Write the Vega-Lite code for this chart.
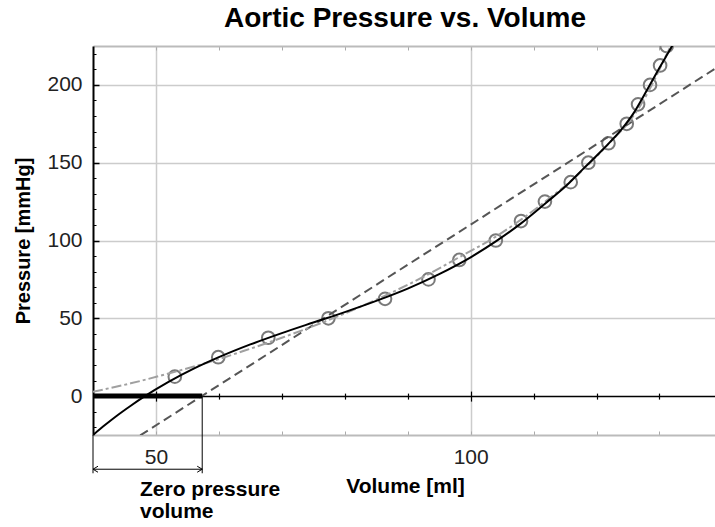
{
  "$schema": "https://vega.github.io/schema/vega-lite/v6.json",
  "width": 624,
  "height": 389,
  "autosize": {"type": "none"},
  "padding": {"left": 93, "top": 46, "right": 0, "bottom": 92},
  "background": "white",
  "config": {"view": {"stroke": null}, "font": "Liberation Sans"},
  "title": {"text": "Aortic Pressure vs. Volume", "font": "Liberation Sans", "fontSize": 28, "fontWeight": "bold", "color": "#000000", "anchor": "middle", "baseline": "alphabetic", "offset": -9},
  "resolve": {"axis": {"x": "independent", "y": "independent"}},
  "layer": [
    {
      "data": {"values": [
        {"V": 53.0, "P": 12.5, "series": "Data points"},
        {"V": 59.9, "P": 25, "series": "Data points"},
        {"V": 67.85, "P": 37.5, "series": "Data points"},
        {"V": 77.4, "P": 50, "series": "Data points"},
        {"V": 86.4, "P": 62.5, "series": "Data points"},
        {"V": 93.3, "P": 75, "series": "Data points"},
        {"V": 98.2, "P": 87.5, "series": "Data points"},
        {"V": 104.0, "P": 100, "series": "Data points"},
        {"V": 108.0, "P": 112.5, "series": "Data points"},
        {"V": 111.8, "P": 125, "series": "Data points"},
        {"V": 115.9, "P": 137.5, "series": "Data points"},
        {"V": 118.7, "P": 150, "series": "Data points"},
        {"V": 121.9, "P": 162.5, "series": "Data points"},
        {"V": 124.8, "P": 175, "series": "Data points"},
        {"V": 126.6, "P": 187.5, "series": "Data points"},
        {"V": 128.5, "P": 200, "series": "Data points"},
        {"V": 130.1, "P": 212.5, "series": "Data points"},
        {"V": 131.15, "P": 225, "series": "Data points"}
      ]},
      "mark": {"type": "point", "filled": false, "size": 160, "strokeWidth": 2, "opacity": 1, "clip": true},
      "encoding": {
        "x": {"field": "V", "type": "quantitative", "scale": {"domain": [40, 139.14], "nice": false, "zero": false},
          "axis": {"orient": "bottom", "values": [50, 60, 70, 80, 90, 100, 110, 120, 130], "domain": true, "domainColor": "#bbbbbb", "domainWidth": 2, "ticks": true, "tickSize": -4, "tickColor": "#aaaaaa", "tickWidth": 1, "grid": true, "gridColor": "#cccccc", "gridWidth": 1.5, "gridOpacity": {"condition": {"test": "datum.value % 50 === 0", "value": 1}, "value": 0}, "labelExpr": "datum.value % 50 === 0 ? datum.label : ''", "labelFont": "Liberation Sans", "labelFontSize": 21, "labelColor": "#222222", "labelPadding": 15, "labelFlush": false, "labelOverlap": false, "title": "Volume [ml]", "titleFont": "Liberation Sans", "titleFontSize": 21, "titleFontWeight": "bold", "titleColor": "#000000", "titleY": 57, "titleBaseline": "alphabetic"}},
        "y": {"field": "P", "type": "quantitative", "scale": {"domain": [-25, 225], "nice": false, "zero": false},
          "axis": {"orient": "left", "values": [0, 50, 100, 150, 200], "domain": true, "domainColor": "#000000", "domainWidth": 2, "ticks": true, "tickSize": -6, "tickColor": "#000000", "tickWidth": 1.5, "grid": true, "gridColor": "#cccccc", "gridWidth": 1.5, "gridOpacity": {"condition": {"test": "datum.value > 0", "value": 1}, "value": 0}, "labelFont": "Liberation Sans", "labelFontSize": 21, "labelColor": "#222222", "labelPadding": 17, "title": "Pressure [mmHg]", "titleFont": "Liberation Sans", "titleFontSize": 20, "titleFontWeight": "bold", "titleColor": "#000000", "titleX": -60, "titleY": 194.5, "titleAngle": 270, "titleBaseline": "bottom", "titleAlign": "center"}},
        "color": {"field": "series", "type": "nominal",
          "scale": {"domain": ["Data points", "Linear fit", "Exponential fit", "Cubic fit"], "range": ["#7a7a7a", "#555555", "#a0a0a0", "#000000"]},
          "legend": null}
      }
    },
    {
      "data": {"values": [
        {"series": "Data points"},
        {"series": "Linear fit"},
        {"series": "Exponential fit"},
        {"series": "Cubic fit"}
      ]},
      "mark": {"type": "point", "filled": false, "strokeWidth": 2, "opacity": 0},
      "encoding": {
        "color": {"field": "series", "type": "nominal",
          "scale": {"domain": ["Data points", "Linear fit", "Exponential fit", "Cubic fit"], "range": ["#7a7a7a", "#555555", "#a0a0a0", "#000000"]},
          "legend": {"orient": "none", "legendX": 40, "legendY": 24, "title": null, "padding": 12, "strokeColor": "#c8c8c8", "fillColor": "#ffffff", "symbolSize": 400, "symbolStrokeWidth": 2.5, "symbolOpacity": 1, "symbolOffset": 23.5, "labelOffset": 38.5, "rowPadding": 4, "labelFont": "Liberation Sans", "labelFontSize": 17, "labelColor": "#222222", "labelLimit": 300}},
        "shape": {"field": "series", "type": "nominal",
          "scale": {"domain": ["Data points", "Linear fit", "Exponential fit", "Cubic fit"], "range": ["M0.6,0A0.6,0.6,0,1,1,-0.6,0A0.6,0.6,0,1,1,0.6,0ZM-0.38,-0.38L0.38,0.38M-0.38,0.38L0.38,-0.38", "M-3.85,0L3.85,0", "M-3.85,0L3.85,0", "M-3.85,0L3.85,0"]},
          "legend": {"orient": "none", "legendX": 40, "legendY": 24, "title": null, "padding": 12, "strokeColor": "#c8c8c8", "fillColor": "#ffffff", "symbolSize": 400, "symbolStrokeWidth": 2.5, "symbolOpacity": 1, "symbolOffset": 23.5, "labelOffset": 38.5, "rowPadding": 4, "labelFont": "Liberation Sans", "labelFontSize": 17, "labelColor": "#222222", "labelLimit": 300}}
      }
    },
    {
      "data": {"values": [
        {"V": 40, "P": -44.6, "series": "Linear fit"},
        {"V": 139.14, "P": 211.2, "series": "Linear fit"}
      ]},
      "mark": {"type": "line", "strokeDash": [9, 5], "strokeWidth": 2, "clip": true},
      "encoding": {
        "x": {"field": "V", "type": "quantitative", "scale": {"domain": [40, 139.14], "nice": false, "zero": false},
          "axis": {"orient": "top", "values": [50, 60, 70, 80, 90, 100, 110, 120, 130], "domain": true, "domainColor": "#bbbbbb", "domainWidth": 2, "ticks": true, "tickSize": -4, "tickColor": "#aaaaaa", "labels": false, "grid": false, "title": null}},
        "y": {"field": "P", "type": "quantitative", "scale": {"domain": [-25, 225], "nice": false, "zero": false},
          "axis": {"orient": "left", "values": [-20, -10, 10, 20, 30, 40, 60, 70, 80, 90, 110, 120, 130, 140, 160, 170, 180, 190, 210, 220], "domain": false, "ticks": true, "tickSize": -3, "tickColor": "#000000", "tickWidth": 1, "labels": false, "grid": false, "title": null}},
        "color": {"field": "series", "type": "nominal", "legend": null}
      }
    },
    {
      "data": {"values": [
        {"V": 40, "P": 2.8, "series": "Exponential fit"},
        {"V": 46, "P": 8.2, "series": "Exponential fit"},
        {"V": 52, "P": 14.5, "series": "Exponential fit"},
        {"V": 58, "P": 21.3, "series": "Exponential fit"},
        {"V": 64, "P": 29.1, "series": "Exponential fit"},
        {"V": 70, "P": 37.5, "series": "Exponential fit"},
        {"V": 77.4, "P": 48.8, "series": "Exponential fit"},
        {"V": 85, "P": 62, "series": "Exponential fit"},
        {"V": 92, "P": 75.6, "series": "Exponential fit"},
        {"V": 98.2, "P": 89.3, "series": "Exponential fit"},
        {"V": 104, "P": 102.5, "series": "Exponential fit"},
        {"V": 108, "P": 113.4, "series": "Exponential fit"},
        {"V": 112, "P": 125.5, "series": "Exponential fit"},
        {"V": 116, "P": 138.5, "series": "Exponential fit"},
        {"V": 119, "P": 150, "series": "Exponential fit"},
        {"V": 122, "P": 162.5, "series": "Exponential fit"},
        {"V": 125, "P": 175.5, "series": "Exponential fit"},
        {"V": 127, "P": 187, "series": "Exponential fit"},
        {"V": 128.8, "P": 200, "series": "Exponential fit"},
        {"V": 130.3, "P": 212.5, "series": "Exponential fit"},
        {"V": 131.8, "P": 225, "series": "Exponential fit"},
        {"V": 133, "P": 234, "series": "Exponential fit"}
      ]},
      "mark": {"type": "line", "strokeDash": [10, 3, 3, 3], "strokeWidth": 2, "clip": true, "interpolate": "monotone"},
      "encoding": {
        "x": {"field": "V", "type": "quantitative", "scale": {"domain": [40, 139.14], "nice": false, "zero": false},
          "axis": {"orient": "bottom", "offset": -38.9, "values": [50, 60, 70, 80, 90, 100, 110, 120, 130], "domain": true, "domainColor": "#000000", "domainWidth": 1.5, "ticks": true, "tickSize": {"condition": {"test": "datum.value % 50 === 0", "value": 5}, "value": 3}, "tickColor": "#000000", "tickWidth": 1.2, "labels": false, "grid": false, "title": null}},
        "y": {"field": "P", "type": "quantitative", "scale": {"domain": [-25, 225], "nice": false, "zero": false}, "axis": null},
        "color": {"field": "series", "type": "nominal", "legend": null}
      }
    },
    {
      "data": {"values": [
        {"V": 40, "P": -25, "series": "Cubic fit"},
        {"V": 42, "P": -18.3, "series": "Cubic fit"},
        {"V": 44, "P": -12, "series": "Cubic fit"},
        {"V": 46, "P": -6.2, "series": "Cubic fit"},
        {"V": 48, "P": -0.7, "series": "Cubic fit"},
        {"V": 52, "P": 9.1, "series": "Cubic fit"},
        {"V": 56, "P": 17.6, "series": "Cubic fit"},
        {"V": 60, "P": 25, "series": "Cubic fit"},
        {"V": 65, "P": 33.2, "series": "Cubic fit"},
        {"V": 70, "P": 40.5, "series": "Cubic fit"},
        {"V": 75, "P": 47.3, "series": "Cubic fit"},
        {"V": 80, "P": 54, "series": "Cubic fit"},
        {"V": 85, "P": 61.2, "series": "Cubic fit"},
        {"V": 90, "P": 69.1, "series": "Cubic fit"},
        {"V": 95, "P": 78.4, "series": "Cubic fit"},
        {"V": 100, "P": 89.2, "series": "Cubic fit"},
        {"V": 104, "P": 99.4, "series": "Cubic fit"},
        {"V": 108, "P": 111, "series": "Cubic fit"},
        {"V": 112, "P": 124.3, "series": "Cubic fit"},
        {"V": 115, "P": 134.5, "series": "Cubic fit"},
        {"V": 118, "P": 146.5, "series": "Cubic fit"},
        {"V": 121, "P": 158.5, "series": "Cubic fit"},
        {"V": 124, "P": 171.5, "series": "Cubic fit"},
        {"V": 126, "P": 182.5, "series": "Cubic fit"},
        {"V": 128, "P": 196.5, "series": "Cubic fit"},
        {"V": 130, "P": 211, "series": "Cubic fit"},
        {"V": 132, "P": 225, "series": "Cubic fit"},
        {"V": 133.5, "P": 236, "series": "Cubic fit"}
      ]},
      "mark": {"type": "line", "strokeWidth": 2, "clip": true, "interpolate": "monotone"},
      "encoding": {
        "x": {"field": "V", "type": "quantitative", "scale": {"domain": [40, 139.14], "nice": false, "zero": false},
          "axis": {"orient": "bottom", "offset": -38.9, "values": [50, 60, 70, 80, 90, 100, 110, 120, 130], "domain": false, "ticks": true, "tickSize": {"condition": {"test": "datum.value % 50 === 0", "value": -5}, "value": -3}, "tickColor": "#000000", "tickWidth": 1.2, "labels": false, "grid": false, "title": null}},
        "y": {"field": "P", "type": "quantitative", "scale": {"domain": [-25, 225], "nice": false, "zero": false}, "axis": null},
        "color": {"field": "series", "type": "nominal", "legend": null}
      }
    },
    {
      "data": {"values": [{"V": 40, "V2": 57.35, "P": 0}]},
      "mark": {"type": "rule", "strokeWidth": 5, "color": "#000000", "strokeCap": "butt"},
      "encoding": {
        "x": {"field": "V", "type": "quantitative", "axis": null},
        "x2": {"field": "V2"},
        "y": {"field": "P", "type": "quantitative", "axis": null}
      }
    },
    {
      "data": {"values": [
        {"V": 57.35, "P": 0, "P2": -49.6},
        {"V": 40, "P": -25, "P2": -49.6}
      ]},
      "mark": {"type": "rule", "strokeWidth": 1, "color": "#000000"},
      "encoding": {
        "x": {"field": "V", "type": "quantitative", "axis": null},
        "y": {"field": "P", "type": "quantitative", "axis": null},
        "y2": {"field": "P2"}
      }
    },
    {
      "data": {"values": [{"V": 40, "V2": 57.35, "P": -47}]},
      "mark": {"type": "rule", "strokeWidth": 1, "color": "#000000"},
      "encoding": {
        "x": {"field": "V", "type": "quantitative", "axis": null},
        "x2": {"field": "V2"},
        "y": {"field": "P", "type": "quantitative", "axis": null}
      }
    },
    {
      "data": {"values": [{"V": 40, "P": -47}]},
      "mark": {"type": "point", "filled": false, "size": 100, "strokeWidth": 1, "color": "#000000", "opacity": 1, "shape": "M1,-0.6L0,0L1,0.6"},
      "encoding": {
        "x": {"field": "V", "type": "quantitative", "axis": null},
        "y": {"field": "P", "type": "quantitative", "axis": null}
      }
    },
    {
      "data": {"values": [{"V": 57.35, "P": -47}]},
      "mark": {"type": "point", "filled": false, "size": 100, "strokeWidth": 1, "color": "#000000", "opacity": 1, "shape": "M-1,-0.6L0,0L-1,0.6"},
      "encoding": {
        "x": {"field": "V", "type": "quantitative", "axis": null},
        "y": {"field": "P", "type": "quantitative", "axis": null}
      }
    },
    {
      "data": {"values": [{"V": 47.47, "P": -64, "label": "Zero pressure\nvolume"}]},
      "mark": {"type": "text", "align": "left", "baseline": "alphabetic", "lineBreak": "\n", "lineHeight": 22, "font": "Liberation Sans", "fontSize": 21, "fontWeight": "bold", "color": "#000000"},
      "encoding": {
        "x": {"field": "V", "type": "quantitative", "axis": null},
        "y": {"field": "P", "type": "quantitative", "axis": null},
        "text": {"field": "label"}
      }
    }
  ]
}
